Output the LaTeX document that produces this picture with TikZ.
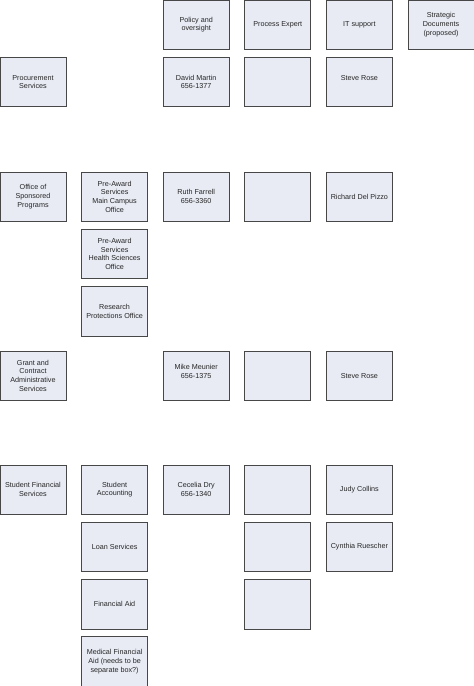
\documentclass[tikz,border=0pt]{standalone}
\usepackage{fontspec}
\setmainfont{Liberation Sans}
\usepackage{tikz}
\usetikzlibrary{positioning}
\definecolor{boxfill}{HTML}{E8EBF4}
\definecolor{boxline}{HTML}{474747}
\tikzstyle{unit}=[rectangle,draw=boxline,fill=boxfill,line width=0.9pt,outer sep=0pt,inner sep=0pt,minimum width=66pt,minimum height=49.5pt,align=center,font=\fontsize{7.2}{8.7}\selectfont,text=black!85]

\begin{document}
\begin{tikzpicture}[node distance=7.8pt and 15.6pt]
            \useasboundingbox (0,0) rectangle (474pt,-686pt);

            \node[unit] (policy) at (196.2pt,-24.75pt) {Policy and\\oversight};
            \node[unit] (expert) [right=of policy] {Process Expert};
            \node[unit] (itsup)  [right=of expert] {IT support};
            \node[unit] (strat)  [right=of itsup] {Strategic\\Documents\\(proposed)};

            \node[unit] (martin) [below=of policy] {David Martin\\656-1377};
            \node[unit] (procx)  [right=of martin] {};
            \node[unit] (rose)   [right=of procx] {Steve Rose\\\mbox{}};
            \node[unit] (proc)   [left=97.2pt of martin] {Procurement\\Services};

            \node[unit] (osp)    [below=65.2pt of proc] {Office of\\Sponsored\\Programs};
            \node[unit] (main)   [right=of osp] {Pre-Award\\Services\\Main Campus\\Office};
            \node[unit] (farrell) [right=of main] {Ruth Farrell\\656-3360};
            \node[unit] (ospx)   [right=of farrell] {};
            \node[unit] (pizzo)  [right=of ospx] {Richard Del Pizzo};
            \node[unit] (health) [below=of main] {Pre-Award\\Services\\Health Sciences\\Office};
            \node[unit] (protect) [below=of health] {Research\\Protections Office};

            \node[unit] (gcas)   [below=129.5pt of osp] {Grant and\\Contract\\Administrative\\Services};
            \node[unit] (meunier) [right=97.2pt of gcas] {Mike Meunier\\656-1375\\\mbox{}};
            \node[unit] (gcasx)  [right=of meunier] {};
            \node[unit] (rose2)  [right=of gcasx] {Steve Rose};

            \node[unit] (sfs)    [below=64.5pt of gcas] {Student Financial\\Services};
            \node[unit] (acct)   [right=of sfs] {Student\\Accounting};
            \node[unit] (dry)    [right=of acct] {Cecelia Dry\\656-1340};
            \node[unit] (sfsx)   [right=of dry] {};
            \node[unit] (collins) [right=of sfsx] {Judy Collins};
            \node[unit] (loan)   [below=of acct] {Loan Services};
            \node[unit] (aid)    [below=of loan] {Financial Aid};
            \node[unit] (medaid) [below=of aid] {Medical Financial\\Aid (needs to be\\separate box?)};
            \node[unit] (sfsy)   [below=of sfsx] {};
            \node[unit] (sfsz)   [below=of sfsy] {};
            \node[unit] (ruescher) [below=of collins] {Cynthia Ruescher};

        \end{tikzpicture}
\end{document}
